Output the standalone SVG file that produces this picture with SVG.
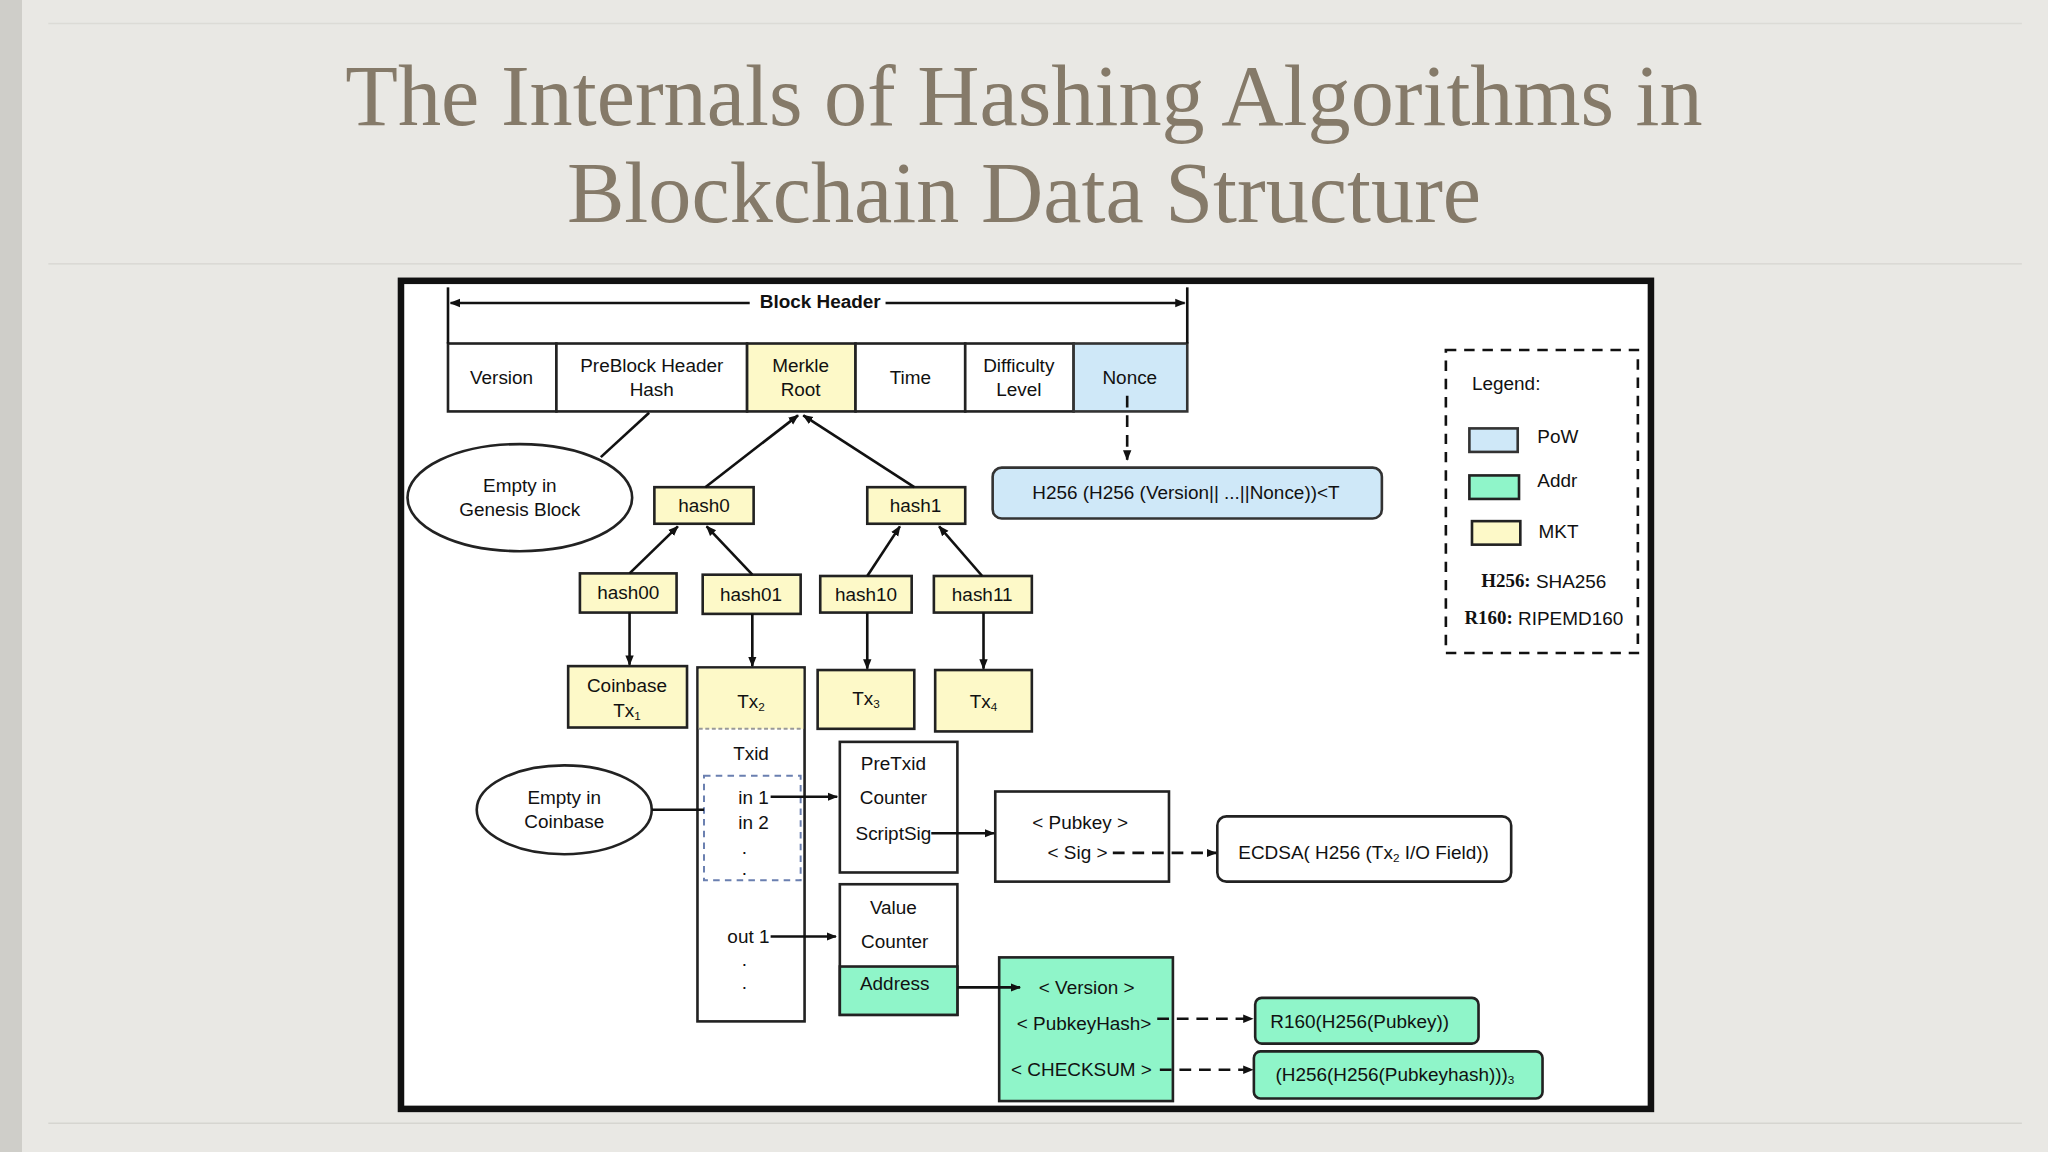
<svg xmlns="http://www.w3.org/2000/svg" width="2048" height="1152" viewBox="0 0 2048 1152">
<defs>
<style>
.t{font-family:"Liberation Sans",Arial,sans-serif;font-size:14.5px;fill:#111;text-anchor:middle;dominant-baseline:middle}
.s{text-anchor:start}
.b{fill:#fff;stroke:#222;stroke-width:2}
.y{fill:#fdf9c8;stroke:#222;stroke-width:2}
.bl{fill:#cfe8f8;stroke:#333;stroke-width:2}
.g{fill:#8ff5c9;stroke:#222;stroke-width:2}
.ln{stroke:#111;stroke-width:2;fill:none}
.da{stroke:#111;stroke-width:2;fill:none;stroke-dasharray:9 6}
.title{font-family:"Liberation Serif","Times New Roman",serif;font-size:66px;fill:#857a69;text-anchor:middle}
</style>
<marker id="ah" viewBox="0 0 10 10" refX="9" refY="5" markerWidth="4" markerHeight="4" orient="auto-start-reverse"><path d="M0,1 L10,5 L0,9 z" fill="#111"/></marker>
</defs>
<rect width="2048" height="1152" fill="#e9e8e4"/>
<rect width="22" height="1152" fill="#cfcec9"/>
<g transform="scale(1.30612)">
<line x1="37" y1="18" x2="1548" y2="18" stroke="#dcdbd6"/>
<line x1="37" y1="202" x2="1548" y2="202" stroke="#d6d5d0"/>
<line x1="37" y1="860" x2="1548" y2="860" stroke="#d6d5d0"/>
<text class="title" x="784" y="96">The Internals of Hashing Algorithms in</text>
<text class="title" x="784" y="170">Blockchain Data Structure</text>
<rect x="307" y="215" width="957" height="634" fill="#fff" stroke="#111" stroke-width="5"/>

<g id="blockheader"><text class="t" x="628" y="232" font-weight="bold" font-size="13.5">Block Header</text></g>
<g id="version"><rect class="b" x="343" y="263" width="83" height="52"/><text class="t" x="384" y="290">Version</text></g>
<g id="preblock"><rect class="b" x="426" y="263" width="146" height="52"/><text class="t" x="499" y="281">PreBlock Header</text><text class="t" x="499" y="299">Hash</text></g>
<g id="merkle"><rect class="y" x="572" y="263" width="83" height="52"/><text class="t" x="613" y="281">Merkle</text><text class="t" x="613" y="299">Root</text></g>
<g id="time"><rect class="b" x="655" y="263" width="84" height="52"/><text class="t" x="697" y="290">Time</text></g>
<g id="difficulty"><rect class="b" x="739" y="263" width="83" height="52"/><text class="t" x="780" y="281">Difficulty</text><text class="t" x="780" y="299">Level</text></g>
<g id="nonce"><rect class="bl" x="822" y="263" width="87" height="52"/><text class="t" x="865" y="290">Nonce</text></g>

<g id="genesis"><ellipse class="b" cx="398" cy="381" rx="86" ry="41"/><text class="t" x="398" y="373">Empty in</text><text class="t" x="398" y="391">Genesis Block</text></g>
<g id="hash0"><rect class="y" x="501" y="373" width="76" height="28"/><text class="t" x="539" y="388">hash0</text></g>
<g id="hash1"><rect class="y" x="664" y="373" width="75" height="28"/><text class="t" x="701" y="388">hash1</text></g>
<g id="hash00"><rect class="y" x="444" y="439" width="74" height="30"/><text class="t" x="481" y="455">hash00</text></g>
<g id="hash01"><rect class="y" x="538" y="440" width="75" height="30"/><text class="t" x="575" y="456">hash01</text></g>
<g id="hash10"><rect class="y" x="628" y="441" width="70" height="28"/><text class="t" x="663" y="456">hash10</text></g>
<g id="hash11"><rect class="y" x="715" y="441" width="75" height="28"/><text class="t" x="752" y="456">hash11</text></g>

<g id="tx1"><rect class="y" x="435" y="510" width="91" height="47"/><text class="t" x="480" y="526">Coinbase</text><text class="t" x="480" y="545">Tx<tspan font-size="9" dy="4">1</tspan></text></g>
<g id="tx2"><rect class="b" x="534" y="511" width="82" height="271"/><rect x="535" y="512" width="80" height="46" fill="#fdf9c8"/><line x1="535" y1="558" x2="615" y2="558" stroke="#999" stroke-width="1.5" stroke-dasharray="3 2"/><text class="t" x="575" y="538">Tx<tspan font-size="9" dy="4">2</tspan></text>
<text class="t" x="575" y="578">Txid</text>
<rect x="539" y="594" width="74" height="80" fill="none" stroke="#6a7fb0" stroke-width="1.5" stroke-dasharray="5 4"/>
<text class="t" x="577" y="612">in 1</text><text class="t" x="577" y="631">in 2</text><text class="t" x="570" y="650">.</text><text class="t" x="570" y="666">.</text>
<text class="t" x="573" y="718">out 1</text><text class="t" x="570" y="736">.</text><text class="t" x="570" y="753">.</text></g>
<g id="tx3"><rect class="y" x="626" y="513" width="74" height="45"/><text class="t" x="663" y="536">Tx<tspan font-size="9" dy="4">3</tspan></text></g>
<g id="tx4"><rect class="y" x="716" y="513" width="74" height="47"/><text class="t" x="753" y="538">Tx<tspan font-size="9" dy="4">4</tspan></text></g>

<g id="coinbase"><ellipse class="b" cx="432" cy="620" rx="67" ry="34"/><text class="t" x="432" y="612">Empty in</text><text class="t" x="432" y="630">Coinbase</text></g>
<g id="input"><rect class="b" x="643" y="568" width="90" height="100"/><text class="t" x="684" y="586">PreTxid</text><text class="t" x="684" y="612">Counter</text><text class="t" x="684" y="639">ScriptSig</text></g>
<g id="output"><rect class="b" x="643" y="677" width="90" height="100"/><rect class="g" x="643" y="740" width="90" height="37"/><text class="t" x="684" y="696">Value</text><text class="t" x="685" y="722">Counter</text><text class="t" x="685" y="754">Address</text></g>
<g id="scriptsig"><rect class="b" x="762" y="606" width="133" height="69"/><text class="t" x="827" y="631">&lt; Pubkey &gt;</text><text class="t" x="825" y="654">&lt; Sig &gt;</text></g>
<g id="ecdsa"><rect class="b" x="932" y="625" width="225" height="50" rx="7"/><text class="t" x="1044" y="654">ECDSA( H256 (Tx<tspan font-size="9" dy="4">2</tspan><tspan dy="-4"> I/O Field))</tspan></text></g>
<g id="address"><rect class="g" x="765" y="733" width="133" height="110"/><text class="t" x="832" y="757">&lt; Version &gt;</text><text class="t" x="830" y="785">&lt; PubkeyHash&gt;</text><text class="t" x="828" y="820">&lt; CHECKSUM &gt;</text></g>
<g id="r160"><rect class="g" x="961" y="764" width="171" height="35" rx="5"/><text class="t" x="1041" y="783">R160(H256(Pubkey))</text></g>
<g id="checksum"><rect class="g" x="960" y="805" width="221" height="36" rx="5"/><text class="t" x="1068" y="824">(H256(H256(Pubkeyhash)))<tspan font-size="9" dy="4">3</tspan></text></g>
<g id="pow"><rect class="bl" x="760" y="358" width="298" height="39" rx="7"/><text class="t" x="908" y="378">H256 (H256 (Version|| ...||Nonce))&lt;T</text></g>

<g id="legend">
<rect x="1107" y="268" width="147" height="232" fill="none" stroke="#111" stroke-width="2" stroke-dasharray="8 6"/>
<text class="t s" x="1127" y="295" font-size="16">Legend:</text>
<rect class="bl" x="1125" y="328" width="37" height="18" stroke-width="1.5"/><text class="t s" x="1177" y="335">PoW</text>
<rect class="g" x="1125" y="364" width="38" height="18" stroke-width="1.5"/><text class="t s" x="1177" y="369">Addr</text>
<rect class="y" x="1127" y="399" width="37" height="18" stroke-width="1.5" stroke="#889"/><text class="t s" x="1178" y="408">MKT</text>
<text class="t" x="1182" y="446"><tspan font-family="Liberation Serif,serif" font-weight="bold">H256:</tspan> SHA256</text>
<text class="t" x="1182" y="475"><tspan font-family="Liberation Serif,serif" font-weight="bold">R160:</tspan> RIPEMD160</text>
</g>

<g id="connectors">
<line class="ln" x1="343" y1="220" x2="343" y2="263"/>
<line class="ln" x1="909" y1="220" x2="909" y2="263"/>
<line class="ln" x1="345" y1="232" x2="574" y2="232" marker-start="url(#ah)"/>
<line class="ln" x1="678" y1="232" x2="907" y2="232" marker-end="url(#ah)"/>
<line class="ln" x1="497" y1="316" x2="460" y2="350"/>
<line class="ln" x1="540" y1="373" x2="611" y2="318" marker-end="url(#ah)"/>
<line class="ln" x1="700" y1="373" x2="615" y2="318" marker-end="url(#ah)"/>
<line class="ln" x1="482" y1="439" x2="519" y2="403" marker-end="url(#ah)"/>
<line class="ln" x1="576" y1="440" x2="541" y2="403" marker-end="url(#ah)"/>
<line class="ln" x1="664" y1="441" x2="689" y2="403" marker-end="url(#ah)"/>
<line class="ln" x1="752" y1="441" x2="719" y2="403" marker-end="url(#ah)"/>
<line class="ln" x1="482" y1="469" x2="482" y2="509" marker-end="url(#ah)"/>
<line class="ln" x1="576" y1="470" x2="576" y2="510" marker-end="url(#ah)"/>
<line class="ln" x1="664" y1="469" x2="664" y2="512" marker-end="url(#ah)"/>
<line class="ln" x1="753" y1="469" x2="753" y2="512" marker-end="url(#ah)"/>
<line class="da" x1="863" y1="303" x2="863" y2="352" marker-end="url(#ah)"/>
<line class="ln" x1="499" y1="620" x2="539" y2="620"/>
<line class="ln" x1="590" y1="610" x2="641" y2="610" marker-end="url(#ah)"/>
<line class="ln" x1="713" y1="638" x2="761" y2="638" marker-end="url(#ah)"/>
<line class="ln" x1="590" y1="717" x2="640" y2="717" marker-end="url(#ah)"/>
<line class="da" x1="852" y1="653" x2="931" y2="653" marker-end="url(#ah)"/>
<line class="ln" x1="733" y1="756" x2="781" y2="756" marker-end="url(#ah)"/>
<line class="da" x1="886" y1="780" x2="959" y2="780" marker-end="url(#ah)"/>
<line class="da" x1="888" y1="819" x2="959" y2="819" marker-end="url(#ah)"/>
</g>
</g>
</svg>
